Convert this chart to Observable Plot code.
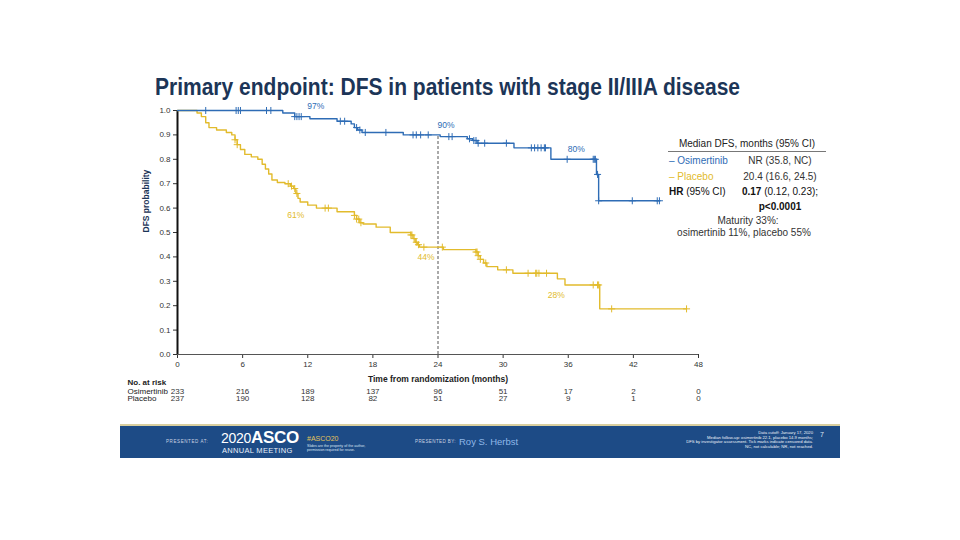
<!DOCTYPE html>
<html><head><meta charset="utf-8">
<script src="https://cdn.jsdelivr.net/npm/d3@7"></script>
<script src="https://cdn.jsdelivr.net/npm/@observablehq/plot@0.6"></script>
<style>
body{margin:0;background:#fff;}
#wrap{position:relative;width:960px;height:540px;overflow:hidden;font-family:"Liberation Sans",Arial,sans-serif;background:#fff;}
#chart{position:absolute;left:0;top:0;}
#title{position:absolute;left:155px;top:74px;font-size:23px;font-weight:bold;color:#1c3557;white-space:nowrap;transform-origin:0 0;line-height:26px;}
.lg{position:absolute;font-size:10px;line-height:12px;color:#333;white-space:nowrap;}
#footer{position:absolute;left:120px;top:424px;width:720px;height:34px;background:#1d4b86;border-top:2px solid #d9cf9f;box-sizing:border-box;}
.ft{position:absolute;white-space:nowrap;color:#fff;line-height:1;}
</style></head><body>
<div id="wrap">
  <div id="chart"></div>
  <div id="title"><span id="tspan">Primary endpoint: DFS in patients with stage II/IIIA disease</span></div>

  <div class="lg" style="left:668px;top:138px;width:158px;text-align:center;color:#222">Median DFS, months (95% CI)</div>
  <div style="position:absolute;left:668px;top:151px;width:158px;height:0;border-top:1.5px solid #777"></div>
  <div class="lg" style="left:669px;top:155px;color:#2e6cb5">– Osimertinib</div>
  <div class="lg" style="left:735px;top:155px;width:90px;text-align:center">NR (35.8, NC)</div>
  <div class="lg" style="left:669px;top:171px;color:#e2bb2c">– Placebo</div>
  <div class="lg" style="left:735px;top:171px;width:90px;text-align:center">20.4 (16.6, 24.5)</div>
  <div class="lg" style="left:669px;top:186px;color:#111"><b>HR</b> (95% CI)</div>
  <div class="lg" style="left:735px;top:186px;width:90px;text-align:center;color:#111"><b>0.17</b> (0.12, 0.23);</div>
  <div class="lg" style="left:735px;top:201px;width:90px;text-align:center;color:#111"><b>p&lt;0.0001</b></div>
  <div class="lg" style="left:668px;top:215px;width:160px;text-align:center">Maturity 33%:</div>
  <div class="lg" style="left:664px;top:227px;width:160px;text-align:center">osimertinib 11%, placebo 55%</div>

  <div id="footer">
    <div class="ft" style="left:46px;top:14px;font-size:4.5px;letter-spacing:0.6px;color:#c9d2e2">PRESENTED AT:</div>
    <div class="ft" style="left:101px;top:3px;font-size:14px;letter-spacing:-0.3px">2020<b style="font-size:17px">ASCO</b></div>
    <div class="ft" style="left:102px;top:21px;font-size:7.5px;letter-spacing:0.3px;font-weight:300;color:#e8eef8">ANNUAL MEETING</div>
    <div class="ft" style="left:187px;top:9px;font-size:7px;color:#e3c45a">#ASCO20</div>
    <div class="ft" style="left:187px;top:18px;font-size:3.6px;color:#dfe6f2;line-height:4.2px">Slides are the property of the author,<br>permission required for reuse.</div>
    <div class="ft" style="left:295px;top:14px;font-size:4.5px;letter-spacing:0.4px;color:#c9d2e2">PRESENTED BY:</div>
    <div class="ft" style="left:339px;top:11px;font-size:9.5px;color:#8fb8e8">Roy S. Herbst</div>
    <div class="ft" style="right:27px;top:5px;font-size:4.2px;line-height:4.6px;text-align:right;color:#eef2f8">Data cutoff: January 17, 2020<br>Median follow-up: osimertinib 22.1, placebo 14.9 months;<br>DFS by investigator assessment. Tick marks indicate censored data.<br>NC, not calculable; NR, not reached.</div>
    <div class="ft" style="right:16px;top:5px;font-size:7px;color:#dfe6f2">7</div>
  </div>
</div>
<script>
// ---- data ----
const months = [0, 6, 12, 18, 24, 30, 36, 42, 48];
const yTicks = [0, 0.1, 0.2, 0.3, 0.4, 0.5, 0.6, 0.7, 0.8, 0.9, 1.0];
const osiAtRisk = [233, 216, 189, 137, 96, 51, 17, 2, 0];
const pboAtRisk = [237, 190, 128, 82, 51, 27, 9, 1, 0];

const osiTime = [0, 9.7, 10.8, 12.2, 14.7, 16.0, 16.3, 16.6, 17.0, 20.8, 24.2, 26.7, 27.2, 27.6, 31.0, 34.4, 38.6, 38.8, 44.4];
const osiSurv = [1.0, 0.99, 0.975, 0.966, 0.956, 0.945, 0.93, 0.92, 0.91, 0.90, 0.893, 0.884, 0.877, 0.866, 0.847, 0.80, 0.738, 0.63, 0.63];
const osiCensor = [2.6, 5.4, 5.6, 5.8, 8.2, 8.6, 10.8, 11.0, 11.2, 11.4, 15.0, 15.4, 16.5, 16.8, 17.3, 19.2, 21.7, 22.0, 22.4, 23.1, 25.0, 25.3, 26.9, 27.3, 27.5, 27.7, 28.3, 30.3, 32.6, 32.9, 33.2, 33.5, 33.8, 33.9, 35.9, 38.3, 38.4, 38.5, 38.7, 38.8, 41.9, 44.2, 44.4];

const pboTime = [0, 1.8, 2.2, 2.6, 2.9, 3.6, 4.5, 5.0, 5.3, 5.5, 5.8, 6.2, 6.8, 7.4, 7.8, 8.1, 8.4, 8.7, 9.2, 9.9, 10.4, 10.7, 10.9, 11.1, 11.3, 12.0, 12.8, 14.7, 16.3, 16.5, 16.8, 17.1, 18.3, 19.6, 21.5, 21.7, 21.9, 22.1, 22.3, 24.5, 27.5, 27.7, 27.9, 28.2, 28.5, 29.5, 30.9, 35.0, 35.7, 38.9, 46.9];
const pboSurv = [1.0, 0.99, 0.975, 0.95, 0.93, 0.92, 0.91, 0.90, 0.88, 0.86, 0.84, 0.82, 0.81, 0.80, 0.78, 0.76, 0.74, 0.715, 0.705, 0.70, 0.69, 0.68, 0.66, 0.64, 0.625, 0.612, 0.60, 0.585, 0.57, 0.555, 0.54, 0.535, 0.522, 0.50, 0.49, 0.475, 0.46, 0.45, 0.44, 0.43, 0.42, 0.405, 0.39, 0.375, 0.36, 0.347, 0.333, 0.31, 0.285, 0.187, 0.187];
const pboCensor = [5.3, 5.5, 10.2, 10.5, 10.8, 11.0, 13.6, 13.9, 16.3, 16.5, 16.7, 16.9, 21.5, 21.6, 21.8, 22.0, 22.2, 22.7, 24.4, 27.5, 27.6, 27.7, 27.9, 28.4, 30.3, 32.3, 33.0, 33.1, 33.3, 34.0, 38.3, 38.7, 38.8, 40.0, 46.9];

const landmarkMonths = [12, 24, 36];
const osiLandmark = ["97%", "90%", "80%"];
const pboLandmark = ["61%", "44%", "28%"];
const landmarkLine = 24;

// ---- build tables ----
const blue = "#2e6cb5", gold = "#e2bb2c", navy = "#1c3557";
function survAt(times, surv, t) {
  let v = surv[0];
  for (let i = 0; i < times.length; i++) if (times[i] <= t) v = surv[i];
  return v;
}
const osi = osiTime.map((t, i) => ({t, s: osiSurv[i]}));
const pbo = pboTime.map((t, i) => ({t, s: pboSurv[i]}));
const osiC = osiCensor.map(t => ({t, s: survAt(osiTime, osiSurv, t)}));
const pboC = pboCensor.map(t => ({t, s: survAt(pboTime, pboSurv, t)}));
const osiL = landmarkMonths.map((t, i) => ({t, s: survAt(osiTime, osiSurv, t), label: osiLandmark[i]}));
const pboL = landmarkMonths.map((t, i) => ({t, s: survAt(pboTime, pboSurv, t), label: pboLandmark[i]}));
const atRisk = months.map((m, i) => ({m, osi: osiAtRisk[i], pbo: pboAtRisk[i]}));

const chart = Plot.plot({
  width: 960, height: 540,
  marginLeft: 177, marginRight: 262, marginTop: 110, marginBottom: 186,
  style: {fontFamily: "'Liberation Sans', Arial, sans-serif", background: "transparent", overflow: "visible"},
  x: {domain: [0, 48]},
  y: {domain: [0, 1]},
  marks: [
    Plot.axisX({ticks: months, tickSize: 4, tickPadding: 3, fontSize: 8, label: null, color: "#333"}),
    Plot.axisY({ticks: yTicks, tickFormat: d3.format(".1f"), tickSize: 4, tickPadding: 3, fontSize: 8, label: null, color: "#333"}),
    Plot.ruleY([0], {stroke: "#555", strokeWidth: 1}),
    Plot.ruleX([0], {stroke: "#111", strokeWidth: 2}),
    Plot.ruleX([landmarkLine], {y1: 0, y2: survAt(osiTime, osiSurv, landmarkLine), stroke: "#555", strokeDasharray: "3,2", strokeWidth: 1}),
    Plot.line(pbo, {x: "t", y: "s", curve: "step-after", stroke: gold, strokeWidth: 1.4}),
    Plot.line(osi, {x: "t", y: "s", curve: "step-after", stroke: blue, strokeWidth: 1.4}),
    Plot.dot(pboC, {x: "t", y: "s", symbol: "plus", r: 2.4, stroke: gold, strokeWidth: 1}),
    Plot.dot(osiC, {x: "t", y: "s", symbol: "plus", r: 2.4, stroke: blue, strokeWidth: 1}),
    Plot.text(osiL, {x: "t", y: "s", text: "label", dx: 8, dy: -10, fill: blue, fontSize: 8.5}),
    Plot.text(pboL, {x: "t", y: "s", text: "label", dx: -12, dy: 10, fill: gold, fontSize: 8.5}),
    Plot.text(["DFS probability"], {frameAnchor: "left", dx: -31, rotate: -90, fontSize: 8.5, fontWeight: "bold", fill: navy}),
    Plot.text(["Time from randomization (months)"], {frameAnchor: "bottom", dy: 27, fontSize: 8.5, fontWeight: "bold", fill: "#222"}),
    Plot.text(["No. at risk"], {frameAnchor: "bottom-left", dx: -50, dy: 30, textAnchor: "start", fontSize: 8, fontWeight: "bold", fill: "#222"}),
    Plot.text(["Osimertinib"], {frameAnchor: "bottom-left", dx: -50, dy: 39, textAnchor: "start", fontSize: 8, fill: "#222"}),
    Plot.text(["Placebo"], {frameAnchor: "bottom-left", dx: -50, dy: 46.5, textAnchor: "start", fontSize: 8, fill: "#222"}),
    Plot.text(atRisk, {x: "m", text: "osi", frameAnchor: "bottom", dy: 39, fontSize: 8, fill: "#333"}),
    Plot.text(atRisk, {x: "m", text: "pbo", frameAnchor: "bottom", dy: 46.5, fontSize: 8, fill: "#333"})
  ]
});
document.getElementById("chart").appendChild(chart);

// fit the condensed title to its width in the reference
const ts = document.getElementById("tspan");
const w = ts.getBoundingClientRect().width;
document.getElementById("title").style.transform = `scaleX(${585 / w})`;
</script>
</body></html>
